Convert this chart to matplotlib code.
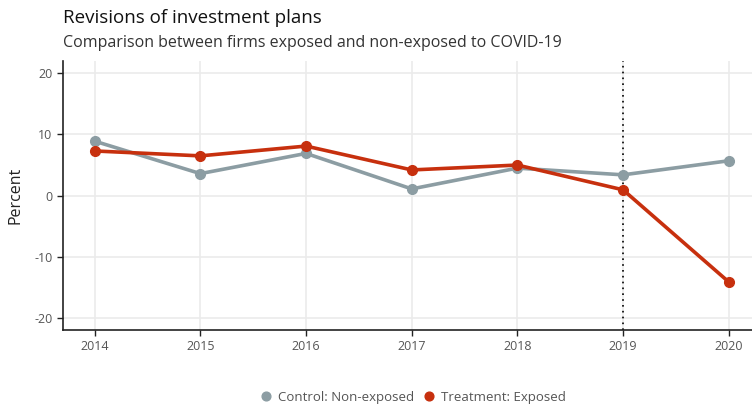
import matplotlib
matplotlib.use("Agg")
import matplotlib.pyplot as plt

years = [2014, 2015, 2016, 2017, 2018, 2019, 2020]
control = [8.9, 3.6, 6.9, 1.1, 4.5, 3.4, 5.7]
treatment = [7.3, 6.5, 8.1, 4.2, 5.0, 0.95, -14.1]
yticks = [-20, -10, 0, 10, 20]

plt.rcParams['font.family'] = ['Open Sans', 'DejaVu Sans']
plt.rcParams['axes.unicode_minus'] = False

fig = plt.figure(figsize=(7.52, 4.09), dpi=100)
ax = fig.add_axes([63/752, 1-330/409, (752-63)/752, (330-61)/409])

c_col = '#8C9DA3'
t_col = '#C7300E'
ax.plot(years, control, color=c_col, lw=2.6, marker='o', ms=7, zorder=3,
        label='Control: Non-exposed')
ax.plot(years, treatment, color=t_col, lw=2.6, marker='o', ms=7, zorder=4,
        label='Treatment: Exposed')
ax.axvline(2019, color='black', lw=1.2, ls=(0, (1, 2.5)), zorder=2)

ax.set_xlim(2013.7, 2020.22)
ax.set_ylim(-21.95, 22.0)
ax.set_xticks(years)
ax.set_yticks(yticks)
ax.grid(True, color='#EBEBEB', lw=1.2)
ax.set_axisbelow(True)
for s in ['top', 'right']:
    ax.spines[s].set_visible(False)
ax.spines['left'].set_color('#222222')
ax.spines['bottom'].set_color('#222222')
ax.spines['left'].set_linewidth(1.2)
ax.spines['bottom'].set_linewidth(1.2)
ax.tick_params(axis='both', colors='#222222', labelcolor='#555555', labelsize=9, length=4, width=1)
ax.set_ylabel('Percent', fontsize=11.5, color='#222222', labelpad=8)

fig.text(63/752, 1-18/409, 'Revisions of investment plans', fontsize=13.5, color='#111111', va='center', ha='left')
fig.text(63/752, 1-43/409, 'Comparison between firms exposed and non-exposed to COVID-19', fontsize=11.5, color='#333333', va='center', ha='left')

leg = fig.legend(loc='center', bbox_to_anchor=(414/752, 1-397/409), ncol=2, frameon=False,
                 fontsize=9.5, handlelength=0.6, handletextpad=0.6, columnspacing=0.8,
                 markerscale=0.9)
for h in leg.legend_handles:
    h.set_linestyle('None')
for t in leg.get_texts():
    t.set_color('#555555')

fig.savefig('out.png', dpi=100)
